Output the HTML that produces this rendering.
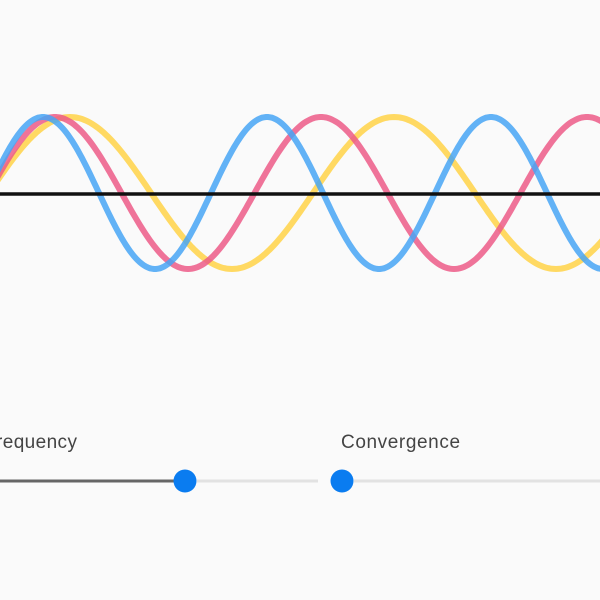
<!DOCTYPE html>
<html><head><style>
html,body{margin:0;padding:0;background:#fafafa;width:600px;height:600px;overflow:hidden}
</style></head><body>
<svg id="s" width="600" height="600" xmlns="http://www.w3.org/2000/svg" style="position:absolute;left:0;top:0">
<rect width="600" height="600" fill="#fafafa"/>
<g id="w" fill="none" stroke-width="6" stroke-linecap="round"></g>
<line x1="0" y1="194" x2="600" y2="194" stroke="#111" stroke-width="3.5"/>
<text x="-4" y="448" font-family="Liberation Sans, sans-serif" font-size="19" letter-spacing="0.4" fill="#444">requency</text>
<text x="341" y="448" font-family="Liberation Sans, sans-serif" font-size="19" letter-spacing="0.6" fill="#444">Convergence</text>
<line x1="0" y1="481" x2="185" y2="481" stroke="#666" stroke-width="3"/>
<line x1="197" y1="481" x2="318" y2="481" stroke="#e2e2e2" stroke-width="3"/>
<line x1="354" y1="481" x2="600" y2="481" stroke="#e2e2e2" stroke-width="3"/>
<circle cx="185" cy="481" r="11.5" fill="#0a7cf0"/>
<circle cx="342" cy="481" r="11.5" fill="#0a7cf0"/>
</svg>
<script>
var g=document.getElementById('w');
var waves=[[324,70,'rgba(255,210,70,0.85)'],[266,55,'rgba(236,90,135,0.85)'],[224,43,'rgba(70,165,245,0.85)']];
waves.forEach(function(w){var d='';for(var x=-10;x<=610;x+=2){var y=193-76*Math.cos(2*Math.PI*(x-w[1])/w[0]);d+=(x==-10?'M':'L')+x+' '+y.toFixed(1);}
var p=document.createElementNS('http://www.w3.org/2000/svg','path');p.setAttribute('d',d);p.setAttribute('stroke',w[2]);g.appendChild(p);});
</script>
</body></html>
